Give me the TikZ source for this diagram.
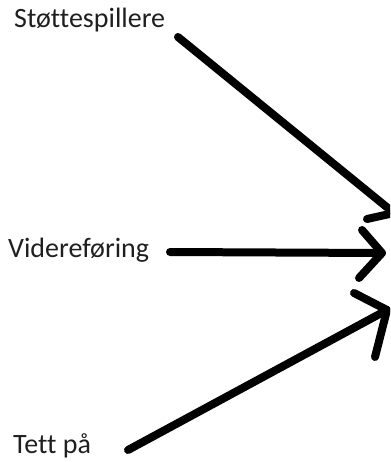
\documentclass[tikz,border=0pt]{standalone}
\usepackage{fontspec}
\setmainfont{Carlito}[Ligatures={NoCommon}]
\begin{document}
\begin{tikzpicture}[x=1pt,y=-1pt,
  lbl/.style={anchor=base west, inner sep=0pt, text=black!88, font=\fontsize{28}{31}\selectfont},
  stroke/.style={line width=8pt, line cap=round, line join=round, draw=black}]
\useasboundingbox (0,0) rectangle (390,462);
\clip (0,0) rectangle (390,462);
% labels
\node[lbl] (s) at (14,28) {Støttespillere};
\node[lbl] (v) at (8,257) {Videreføring};
\node[lbl] (t) at (13,453) {Tett på};
% arrow 1
\coordinate (s1) at (178,37);
\coordinate (e1) at (394,213);
\coordinate (b1a) at (367,219);
\coordinate (b1b) at (399,184);
\draw[stroke] (s1) -- (e1);
\draw[stroke] (b1a) -- (e1) -- (b1b);
% arrow 2
\coordinate (s2) at (170,252);
\coordinate (e2) at (382,253);
\coordinate (b2a) at (362,230);
\coordinate (b2b) at (359,278);
\draw[stroke] (s2) -- (e2);
\draw[stroke] (b2a) -- (e2) -- (b2b);
% arrow 3
\coordinate (s3) at (128,450);
\coordinate (e3) at (387,310);
\coordinate (b3a) at (354,293);
\coordinate (b3b) at (375,357);
\draw[stroke] (s3) -- (e3);
\draw[stroke] (b3a) -- (e3) -- (b3b);
\end{tikzpicture}
\end{document}
